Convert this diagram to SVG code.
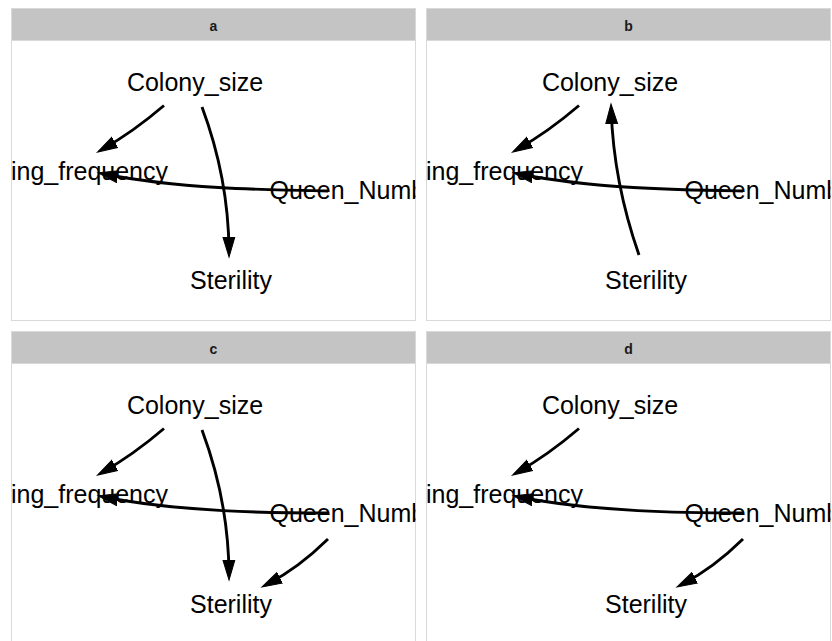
<svg xmlns="http://www.w3.org/2000/svg" width="832" height="641" viewBox="0 0 832 641">
  <style>
    .panel { fill: #ffffff; stroke: #d9d9d9; stroke-width: 1; }
    .strip { fill: #c4c4c4; stroke: #d9d9d9; stroke-width: 1; }
    .strip-label { font-family: "Liberation Sans", Arial, sans-serif; font-size: 14px; font-weight: bold; fill: #1a1a1a; text-anchor: middle; }
    .node { font-family: "Liberation Sans", Arial, sans-serif; font-size: 25px; fill: #000000; }
    .edge { fill: none; stroke: #000000; stroke-width: 2.9; marker-end: url(#head); }
  </style>
  <defs>
    <marker id="head" markerUnits="userSpaceOnUse" markerWidth="22" markerHeight="14" viewBox="0 0 22 14" refX="14" refY="7" orient="auto">
      <path d="M0,1 L20,7 L0,13 Z" fill="#000000" stroke="#000000" stroke-width="1" stroke-linejoin="miter"/>
    </marker>
    <clipPath id="plot-area" clipPathUnits="userSpaceOnUse">
      <rect x="11.5" y="41" width="404" height="285"/>
    </clipPath>
  </defs>

  <!-- facet a -->
  <g id="facet-a">
    <rect class="panel" x="11.5" y="8.5" width="404" height="312"/>
    <rect class="strip" x="11.5" y="8.5" width="404" height="32"/>
    <text class="strip-label" x="213.5" y="30.5">a</text>
    <g clip-path="url(#plot-area)">
      <g id="a-edges">
        <path class="edge" d="M164,105.5 Q133,132 102.7,149.1"/>
        <path class="edge" d="M202,107 Q228.5,178 229,251"/>
        <path class="edge" d="M328,191 C270,190 180,189 104,174"/>
      </g>
      <g id="a-colony_size"><text class="node" x="195" y="91" text-anchor="middle">Colony_size</text></g>
      <g id="a-frequency"><text class="node" x="168" y="180" text-anchor="end">ing_frequency</text></g>
      <g id="a-queen_number"><text class="node" x="269.5" y="199">Queen_Numb</text></g>
      <g id="a-sterility"><text class="node" x="231" y="289" text-anchor="middle">Sterility</text></g>
    </g>
  </g>

  <!-- facet b -->
  <g id="facet-b" transform="translate(415,0)">
    <rect class="panel" x="11.5" y="8.5" width="404" height="312"/>
    <rect class="strip" x="11.5" y="8.5" width="404" height="32"/>
    <text class="strip-label" x="213.5" y="30.5">b</text>
    <g clip-path="url(#plot-area)">
      <g id="b-edges">
        <path class="edge" d="M164,105.5 Q133,132 102.7,149.1"/>
        <path class="edge" d="M224,255 Q198.5,182 196.2,110"/>
        <path class="edge" d="M328,191 C270,190 180,189 104,174"/>
      </g>
      <g id="b-colony_size"><text class="node" x="195" y="91" text-anchor="middle">Colony_size</text></g>
      <g id="b-frequency"><text class="node" x="168" y="180" text-anchor="end">ing_frequency</text></g>
      <g id="b-queen_number"><text class="node" x="269.5" y="199">Queen_Numb</text></g>
      <g id="b-sterility"><text class="node" x="231" y="289" text-anchor="middle">Sterility</text></g>
    </g>
  </g>

  <!-- facet c -->
  <g id="facet-c" transform="translate(0,323)">
    <rect class="panel" x="11.5" y="8.5" width="404" height="320"/>
    <rect class="strip" x="11.5" y="8.5" width="404" height="32"/>
    <text class="strip-label" x="213.5" y="30.5">c</text>
    <g clip-path="url(#plot-area)">
      <g id="c-edges">
        <path class="edge" d="M164,105.5 Q133,132 102.7,149.1"/>
        <path class="edge" d="M202,107 Q228.5,178 229,251"/>
        <path class="edge" d="M328,190 C270,190 180,189 104,174"/>
        <path class="edge" d="M328,216 Q298.5,245 267.3,261.2"/>
      </g>
      <g id="c-colony_size"><text class="node" x="195" y="91" text-anchor="middle">Colony_size</text></g>
      <g id="c-frequency"><text class="node" x="168" y="180" text-anchor="end">ing_frequency</text></g>
      <g id="c-queen_number"><text class="node" x="269.5" y="199">Queen_Numb</text></g>
      <g id="c-sterility"><text class="node" x="231" y="290" text-anchor="middle">Sterility</text></g>
    </g>
  </g>

  <!-- facet d -->
  <g id="facet-d" transform="translate(415,323)">
    <rect class="panel" x="11.5" y="8.5" width="404" height="320"/>
    <rect class="strip" x="11.5" y="8.5" width="404" height="32"/>
    <text class="strip-label" x="213.5" y="30.5">d</text>
    <g clip-path="url(#plot-area)">
      <g id="d-edges">
        <path class="edge" d="M164,105.5 Q133,132 102.7,149.1"/>
        <path class="edge" d="M328,190 C270,190 180,189 104,174"/>
        <path class="edge" d="M328,216 Q298.5,245 267.3,261.2"/>
      </g>
      <g id="d-colony_size"><text class="node" x="195" y="91" text-anchor="middle">Colony_size</text></g>
      <g id="d-frequency"><text class="node" x="168" y="180" text-anchor="end">ing_frequency</text></g>
      <g id="d-queen_number"><text class="node" x="269.5" y="199">Queen_Numb</text></g>
      <g id="d-sterility"><text class="node" x="231" y="290" text-anchor="middle">Sterility</text></g>
    </g>
  </g>
</svg>
